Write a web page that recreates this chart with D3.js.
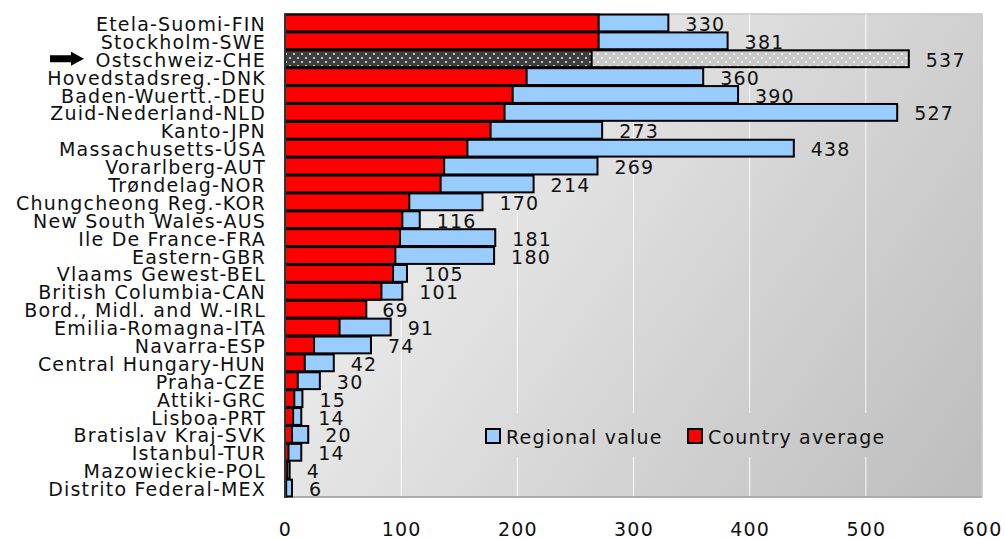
<!DOCTYPE html>
<html>
<head>
<meta charset="utf-8">
<script src="https://cdn.jsdelivr.net/npm/d3@7"></script>
<style>
  body { margin: 0; background: #fff; }
  text { font-family: "DejaVu Sans", Verdana, sans-serif; }
</style>
</head>
<body>
<div id="chart"></div>
<script>
const regions = ["Etela-Suomi-FIN", "Stockholm-SWE", "Ostschweiz-CHE", "Hovedstadsreg.-DNK",
  "Baden-Wuertt.-DEU", "Zuid-Nederland-NLD", "Kanto-JPN", "Massachusetts-USA", "Vorarlberg-AUT",
  "Trøndelag-NOR", "Chungcheong Reg.-KOR", "New South Wales-AUS", "Ile De France-FRA",
  "Eastern-GBR", "Vlaams Gewest-BEL", "British Columbia-CAN", "Bord., Midl. and W.-IRL",
  "Emilia-Romagna-ITA", "Navarra-ESP", "Central Hungary-HUN", "Praha-CZE", "Attiki-GRC",
  "Lisboa-PRT", "Bratislav Kraj-SVK", "Istanbul-TUR", "Mazowieckie-POL", "Distrito Federal-MEX"]
const regionalValue = [330, 381, 537, 360, 390, 527, 273, 438, 269, 214, 170, 116, 181, 180,
  105, 101, 69, 91, 74, 42, 30, 15, 14, 20, 14, 4, 6]
const countryAverage = [270, 270, 264, 208, 196, 189, 177, 157, 137, 134, 107, 101, 99, 95,
  93, 83, 70, 47, 25, 17, 11, 8, 7, 6, 3, 2, 1]
const xTicks = [0, 100, 200, 300, 400, 500, 600]
const highlight = "Ostschweiz-CHE"

const W = 1005, H = 539
const m = {top: 14, right: 23, bottom: 42, left: 285}
const FS = 19, LS = 1.2   // excel text renders wide, so add some spacing

const svg = d3.select("#chart").append("svg")
  .attr("width", W).attr("height", H)

const defs = svg.append("defs")
const grad = defs.append("linearGradient").attr("id", "bg")
  .attr("gradientUnits", "userSpaceOnUse")
  .attr("x1", m.left).attr("y1", m.top).attr("x2", W - m.right).attr("y2", H - m.bottom)
grad.append("stop").attr("offset", 0).attr("stop-color", "#f8f8f8")
grad.append("stop").attr("offset", 1).attr("stop-color", "#bdbdbd")

function dots(id, bg) {
  const p = defs.append("pattern").attr("id", id)
    .attr("patternUnits", "userSpaceOnUse").attr("width", 8).attr("height", 8)
  p.append("rect").attr("width", 8).attr("height", 8).attr("fill", bg)
  p.append("circle").attr("cx", 2).attr("cy", 2).attr("r", 0.9).attr("fill", "#fff")
  p.append("circle").attr("cx", 6).attr("cy", 6).attr("r", 0.9).attr("fill", "#fff")
}
dots("dotDark", "#3f3f3f")
dots("dotLight", "#c8c8c8")

const x = d3.scaleLinear().domain([0, 600]).range([m.left, W - m.right])
const y = d3.scaleBand().domain(regions).range([m.top, H - m.bottom]).paddingInner(0.06).paddingOuter(0.03)

// plot background
svg.append("rect")
  .attr("x", x(0)).attr("y", m.top)
  .attr("width", x(600) - x(0)).attr("height", H - m.bottom - m.top)
  .attr("fill", "url(#bg)").attr("stroke", "#c6c6c6").attr("stroke-width", 1.5)

// gridlines
svg.append("g").selectAll("line")
  .data(xTicks.slice(1, -1))
  .join("line")
  .attr("x1", d => x(d)).attr("x2", d => x(d))
  .attr("y1", m.top).attr("y2", H - m.bottom)
  .attr("stroke", "#fafafa").attr("stroke-width", 1)

// bottom edge
svg.append("line").attr("x1", x(0)).attr("x2", x(600))
  .attr("y1", H - m.bottom).attr("y2", H - m.bottom)
  .attr("stroke", "#a0a0a0").attr("stroke-width", 1.5)

const rows = regions.map((r, i) => ({name: r, reg: regionalValue[i], ctry: countryAverage[i]}))

// value labels (behind bars)
svg.append("g").selectAll("text")
  .data(rows)
  .join("text")
  .attr("x", d => x(d.reg) + 17)
  .attr("y", d => y(d.name) + y.bandwidth() / 2 + 1)
  .attr("dominant-baseline", "central")
  .attr("font-size", FS).attr("letter-spacing", LS).attr("fill", "#111")
  .text(d => d.reg)

// regional bars
svg.append("g").selectAll("rect")
  .data(rows)
  .join("rect")
  .attr("x", x(0)).attr("y", d => y(d.name))
  .attr("width", d => x(d.reg) - x(0)).attr("height", y.bandwidth())
  .attr("fill", d => d.name === highlight ? "url(#dotLight)" : "#99ccff")
  .attr("stroke", "#000").attr("stroke-width", 2)

// country bars
svg.append("g").selectAll("rect")
  .data(rows)
  .join("rect")
  .attr("x", x(0)).attr("y", d => y(d.name))
  .attr("width", d => x(d.ctry) - x(0)).attr("height", y.bandwidth())
  .attr("fill", d => d.name === highlight ? "url(#dotDark)" : "#ff0000")
  .attr("stroke", "#000").attr("stroke-width", 2)

// left axis line
svg.append("line").attr("x1", x(0)).attr("x2", x(0))
  .attr("y1", m.top).attr("y2", H - m.bottom)
  .attr("stroke", "#333").attr("stroke-width", 2)

// category labels
svg.append("g").selectAll("text")
  .data(regions)
  .join("text")
  .attr("x", 266)
  .attr("y", d => y(d) + y.bandwidth() / 2 + 1)
  .attr("text-anchor", "end").attr("dominant-baseline", "central")
  .attr("font-size", FS).attr("letter-spacing", LS).attr("fill", "#111")
  .text(d => d)

// arrow pointing at the highlighted region
const ay = y(highlight) + y.bandwidth() / 2
svg.append("path")
  .attr("d", `M50,${ay - 3.5}H71V${ay - 7}L84,${ay}L71,${ay + 7}V${ay + 3.5}H50Z`)
  .attr("fill", "#000")

// x axis
const xAxis = svg.append("g")
  .attr("transform", `translate(0,${H - m.bottom})`)
  .call(d3.axisBottom(x).tickValues(xTicks).tickSize(0).tickPadding(26))
xAxis.select(".domain").remove()
xAxis.selectAll("text").attr("font-size", FS).attr("letter-spacing", LS).attr("fill", "#111")
  .style("font-family", '"DejaVu Sans", Verdana, sans-serif')

// legend
const lg = svg.append("g")
lg.append("rect").attr("x", 478).attr("y", 413).attr("width", 418).attr("height", 44)
  .attr("fill", "url(#bg)")
const legendItems = [
  {label: "Regional value", color: "#99ccff", x: 486},
  {label: "Country average", color: "#ff0000", x: 688}
]
legendItems.forEach(it => {
  lg.append("rect").attr("x", it.x).attr("y", 429).attr("width", 14).attr("height", 14)
    .attr("fill", it.color).attr("stroke", "#000").attr("stroke-width", 2)
  lg.append("text").attr("x", it.x + 20).attr("y", 437)
    .attr("dominant-baseline", "central").attr("font-size", FS).attr("letter-spacing", LS)
    .attr("fill", "#111")
    .text(it.label)
})
</script>
</body>
</html>
